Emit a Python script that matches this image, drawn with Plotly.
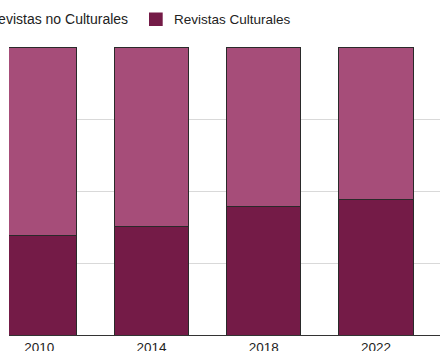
import plotly.graph_objects as go

# Share of magazines by year (percent of total)
years = ["2010", "2014", "2018", "2022"]
culturales = [34.7, 37.8, 44.5, 46.9]
no_culturales = [65.3, 62.2, 55.5, 53.1]

series_names = ["Revistas no Culturales", "Revistas Culturales"]
light = "#A64D79"
dark = "#741B47"

W, H = 440, 351
ML, MR, MT, MB = 9, 0, 47, 16
plot_w = W - ML - MR
plot_h = H - MT - MB


def px_x(px):
    return (px - ML) / plot_w


def px_y(py):
    return (H - MB - py) / plot_h


fig = go.Figure()
fig.add_trace(go.Bar(
    x=list(range(len(years))), y=culturales, name=series_names[1],
    marker=dict(color=dark, line=dict(color="#2a2a2a", width=1)),
    width=0.66, showlegend=False,
))
fig.add_trace(go.Bar(
    x=list(range(len(years))), y=no_culturales, name=series_names[0],
    marker=dict(color=light, line=dict(color="#2a2a2a", width=1)),
    width=0.66, showlegend=False,
))

# Legend row drawn by hand along the top
font_family = "Liberation Sans, Arial, sans-serif"
fig.add_shape(type="rect", xref="paper", yref="paper",
              x0=px_x(-26), x1=px_x(-12), y0=px_y(26), y1=px_y(12.5),
              fillcolor=light, line=dict(width=0))
fig.add_annotation(xref="paper", yref="paper", x=px_x(129.5), y=px_y(19.5),
                   xanchor="right", yanchor="middle", showarrow=False,
                   text=series_names[0],
                   font=dict(family=font_family, size=14, color="#222222"))
fig.add_shape(type="rect", xref="paper", yref="paper",
              x0=px_x(149), x1=px_x(162.7), y0=px_y(26), y1=px_y(12.5),
              fillcolor=dark, line=dict(width=0))
fig.add_annotation(xref="paper", yref="paper", x=px_x(172), y=px_y(19.5),
                   xanchor="left", yanchor="middle", showarrow=False,
                   text=series_names[1],
                   font=dict(family=font_family, size=13.5, color="#222222"))

fig.update_layout(
    template="none",
    barmode="stack",
    width=W, height=H,
    margin=dict(l=ML, r=MR, t=MT, b=MB, pad=0),
    paper_bgcolor="white", plot_bgcolor="white",
    font=dict(family=font_family, size=13.5, color="#222222"),
    showlegend=False,
)
fig.update_xaxes(
    range=[-0.27, 3.57], tickmode="array",
    tickvals=list(range(len(years))), ticktext=years,
    showgrid=False, zeroline=False, showline=True, linecolor="#333333", linewidth=1,
    ticks="", automargin=False, tickfont=dict(size=13.5, color="#222222"),
)
fig.update_yaxes(
    range=[0, 100], dtick=25, showticklabels=False,
    showgrid=True, gridcolor="#d9d9d9", gridwidth=1, zeroline=False,
    showline=False, ticks="", automargin=False,
)

fig.write_html("out.html")
